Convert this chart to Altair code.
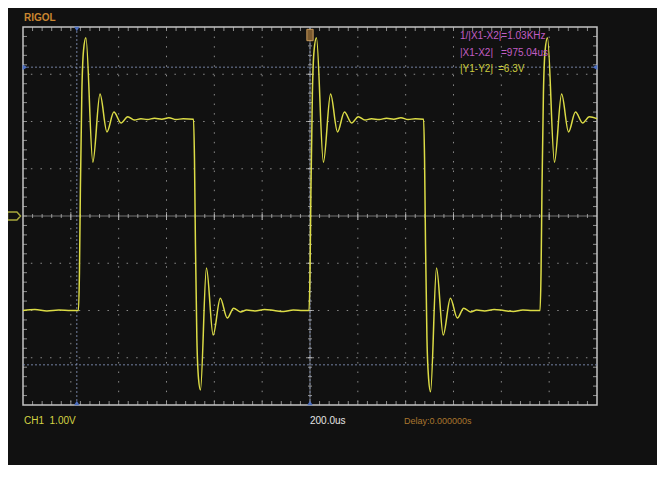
import altair as alt
import pandas as pd

# ---- waveform (time in microseconds, volts) ----
trace_t = [
    -1200, -1150, -1100, -1050, -1000, -968,
    -964, -960, -954, -947, -937, -908, -878, -849, -820, -790, -762, -734, -707,
    -680, -650, -620, -590, -560, -530, -487,
    -483, -479, -473, -466, -458, -433, -405, -375, -346, -319, -291, -265,
    -230, -190, -150, -110, -70, -30, -4,
    0, 4, 10, 17, 27, 56, 86, 115, 144, 174, 202, 230, 257,
    290, 320, 350, 380, 410, 440, 475,
    479, 483, 489, 496, 504, 529, 557, 587, 616, 643, 671, 697,
    730, 770, 810, 850, 890, 930, 962,
    966, 970, 976, 983, 993, 1022, 1052, 1081, 1110, 1140, 1168, 1200,
]
trace_v = [
    -2.0, -1.98, -2.01, -1.99, -2.0, -2.0,
    -1.2, 0.6, 2.6, 3.5, 3.77, 1.14, 2.58, 1.78, 2.20, 1.97, 2.10, 2.03, 2.06,
    2.04, 2.07, 2.05, 2.08, 2.04, 2.06, 2.05,
    1.2, -0.6, -2.6, -3.45, -3.68, -1.10, -2.52, -1.74, -2.16, -1.95, -2.03, -1.99,
    -2.01, -1.98, -2.0, -2.02, -1.99, -2.0, -2.0,
    -1.2, 0.6, 2.6, 3.5, 3.77, 1.14, 2.58, 1.78, 2.20, 1.97, 2.10, 2.03, 2.06,
    2.04, 2.07, 2.05, 2.08, 2.04, 2.06, 2.05,
    1.2, -0.6, -2.6, -3.45, -3.72, -1.10, -2.52, -1.74, -2.16, -1.95, -2.03, -1.99,
    -2.01, -1.98, -2.0, -2.02, -1.99, -2.0, -2.0,
    -1.2, 0.6, 2.6, 3.5, 3.77, 1.14, 2.58, 1.78, 2.20, 1.97, 2.10, 2.06,
]

# ---- graticule ----
div_t = [-1000, -800, -600, -400, -200, 200, 400, 600, 800, 1000]
div_v = [-3, -2, -1, 1, 2, 3]
minor_t = [t for t in range(-1160, 1200, 40)]
minor_v = [round(-3.8 + 0.2 * i, 1) for i in range(39)]

# ---- cursors ----
cursor_t = [-975, 0]
cursor_v = [3.15, -3.15]

# ---- labels ----
readout_1 = "1/|X1-X2|=1.03KHz"
readout_2a, readout_2b = "|X1-X2|", "=975.04us"
readout_3a, readout_3b = "|Y1-Y2|", "=6.3V"
bottom_ch = "CH1\u00a0\u00a01.00V"
bottom_time = "200.0us"
bottom_delay = "Delay:0.000000s"

xs = alt.Scale(domain=[-1200, 1200], nice=False, zero=False)
ys = alt.Scale(domain=[-4, 4], nice=False, zero=False)
X = alt.X("t:Q", scale=xs, axis=None)
Y = alt.Y("v:Q", scale=ys, axis=None)

GRID = "#8a8a8a"
FRAME = "#c4c4c4"
CURS = "#8393b8"

layers = []

# dotted division grid
layers.append(alt.Chart(pd.DataFrame({"t": div_t})).mark_rule(
    color=GRID, strokeWidth=1, strokeDash=[1.5, 8.07]).encode(x=X))
layers.append(alt.Chart(pd.DataFrame({"v": div_v})).mark_rule(
    color=GRID, strokeWidth=1, strokeDash=[1.5, 8.07]).encode(y=Y))

# center crosshair
layers.append(alt.Chart(pd.DataFrame({"t": [0]})).mark_rule(
    color=FRAME, strokeWidth=1, opacity=0.55).encode(x=X))
layers.append(alt.Chart(pd.DataFrame({"v": [0]})).mark_rule(
    color=FRAME, strokeWidth=1, opacity=0.55).encode(y=Y))
layers.append(alt.Chart(pd.DataFrame({"t": minor_t, "v": [0] * len(minor_t)})).mark_tick(
    orient="vertical", size=4, thickness=1, color=FRAME).encode(x=X, y=Y))
layers.append(alt.Chart(pd.DataFrame({"t": div_t, "v": [0] * len(div_t)})).mark_tick(
    orient="vertical", size=8, thickness=1, color=FRAME).encode(x=X, y=Y))
layers.append(alt.Chart(pd.DataFrame({"v": minor_v, "t": [0] * len(minor_v)})).mark_tick(
    orient="horizontal", size=4, thickness=1, color=FRAME).encode(x=X, y=Y))
layers.append(alt.Chart(pd.DataFrame({"v": div_v, "t": [0] * len(div_v)})).mark_tick(
    orient="horizontal", size=8, thickness=1, color=FRAME).encode(x=X, y=Y))

# frame ticks (inward)
layers.append(alt.Chart(pd.DataFrame({"t": minor_t, "v": [4] * len(minor_t)})).mark_tick(
    orient="vertical", size=4, thickness=1, yOffset=2, color=FRAME).encode(x=X, y=Y))
layers.append(alt.Chart(pd.DataFrame({"t": minor_t, "v": [-4] * len(minor_t)})).mark_tick(
    orient="vertical", size=4, thickness=1, yOffset=-2, color=FRAME).encode(x=X, y=Y))
layers.append(alt.Chart(pd.DataFrame({"v": minor_v, "t": [-1200] * len(minor_v)})).mark_tick(
    orient="horizontal", size=4, thickness=1, xOffset=2, color=FRAME).encode(x=X, y=Y))
layers.append(alt.Chart(pd.DataFrame({"v": minor_v, "t": [1200] * len(minor_v)})).mark_tick(
    orient="horizontal", size=4, thickness=1, xOffset=-2, color=FRAME).encode(x=X, y=Y))

# cursor lines
layers.append(alt.Chart(pd.DataFrame({"t": cursor_t})).mark_rule(
    color=CURS, strokeWidth=1, strokeDash=[2, 2], opacity=0.85).encode(x=X))
layers.append(alt.Chart(pd.DataFrame({"v": cursor_v})).mark_rule(
    color=CURS, strokeWidth=1, strokeDash=[2, 2], opacity=0.85).encode(y=Y))

# cursor markers on frame
layers.append(alt.Chart(pd.DataFrame({"t": [-975], "v": [4]})).mark_point(
    shape="triangle-down", filled=True, size=30, color="#4d6fc0", opacity=1, yOffset=2).encode(x=X, y=Y))
layers.append(alt.Chart(pd.DataFrame({"t": cursor_t, "v": [-4, -4]})).mark_point(
    shape="triangle-up", filled=True, size=30, color="#4d6fc0", opacity=1, yOffset=-2).encode(x=X, y=Y))
layers.append(alt.Chart(pd.DataFrame({"t": [-1200], "v": [3.15]})).mark_point(
    shape="triangle-right", filled=True, size=30, color="#4d6fc0", opacity=1, xOffset=2).encode(x=X, y=Y))
layers.append(alt.Chart(pd.DataFrame({"t": [1200], "v": [3.15]})).mark_point(
    shape="triangle-left", filled=True, size=30, color="#4d6fc0", opacity=1, xOffset=-2).encode(x=X, y=Y))

# trace
layers.append(alt.Chart(pd.DataFrame({"t": trace_t, "v": trace_v})).mark_line(
    interpolate="monotone", color="#dcdc46", strokeWidth=1.5).encode(x=X, y=Y, order="t:Q"))

# trigger marker (top) and channel marker (left)
layers.append(alt.Chart(pd.DataFrame({"t": [0], "v": [4]})).mark_point(
    shape="M-0.55,-1 L0.55,-1 L0.55,1 L-0.55,1 Z", size=130, filled=True,
    fill="#7a5a30", stroke="#c89a5a", strokeWidth=1, opacity=1, yOffset=8).encode(x=X, y=Y))
layers.append(alt.Chart(pd.DataFrame({"v": [0]})).mark_point(
    shape="M-1,-0.6 L0.45,-0.6 L1,0 L0.45,0.6 L-1,0.6 Z", size=170, filled=False,
    stroke="#a8a83c", strokeWidth=1.5, opacity=1).encode(x=alt.value(-9), y=Y))


def label(txt, x, y, color, size=9, weight="normal"):
    return alt.Chart(pd.DataFrame({"label": [txt]})).mark_text(
        align="left", baseline="middle", font="Liberation Sans", fontSize=size,
        fontWeight=weight, color=color).encode(
        x=alt.value(x), y=alt.value(y), text="label:N")


# positions relative to the plot area (plot origin at page 23,27)
layers.append(label("RIGOL", 1, -9, "#c98630", size=10, weight="bold"))
layers.append(label(readout_1, 437, 9, "#c25ec4", size=10))
layers.append(label(readout_2a, 437, 26, "#c25ec4", size=10))
layers.append(label(readout_2b, 478, 26, "#c25ec4", size=10))
layers.append(label(readout_3a, 437, 42, "#cccc3e", size=10))
layers.append(label(readout_3b, 475, 42, "#cccc3e", size=10))
layers.append(label(bottom_ch, 1, 394, "#d4d444", size=10))
layers.append(label(bottom_time, 287, 394, "#e4e4e4", size=10))
layers.append(label(bottom_delay, 381, 394, "#a9762e", size=9))

chart = alt.layer(*layers).properties(
    width=574, height=378,
    autosize=alt.AutoSizeParams(type="none"),
    padding={"left": 15, "top": 19, "right": 60, "bottom": 60},
    background="#111111",
).configure_view(stroke=FRAME, strokeWidth=1.5)

chart.save("out.html", embed_options={"renderer": "svg", "actions": False})
